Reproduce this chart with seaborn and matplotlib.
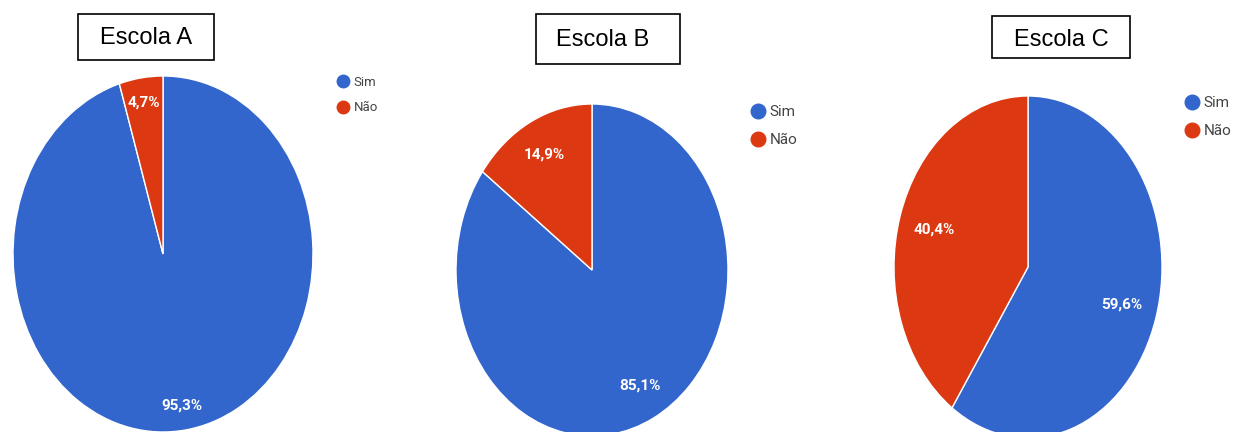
import matplotlib
matplotlib.use("Agg")
import matplotlib.pyplot as plt
from matplotlib.lines import Line2D
from matplotlib.patches import Rectangle
import seaborn as sns

# Survey answers per school (percent)
schools = ["Escola A", "Escola B", "Escola C"]
answers = ["Sim", "Não"]
sim_pct = [95.3, 85.1, 59.6]
nao_pct = [4.7, 14.9, 40.4]

sns.set_theme(style="white")
plt.rcParams["font.family"] = ["Liberation Sans", "DejaVu Sans"]
colors = sns.color_palette(["#3366CC", "#DC3912"])

W, H = 1233, 432
fig = plt.figure(figsize=(W / 100, H / 100), dpi=100)
fig.patch.set_facecolor("white")


def fx(x):
    return x / W


def fy(y):
    return 1 - y / H


# layout per panel: pie centre/radii, title box, legend anchor, label distance, font sizes
panels = [
    dict(cx=163, cy=254, rx=150, ry=178, box=(78, 14, 214, 60), tx=146, ty=38,
         leg=(336, 95), pct=0.86, leg_fs=9.5, leg_gap=0.95, ms=9, pad=0.35),
    dict(cx=592, cy=270, rx=136, ry=166, box=(536, 14, 680, 64), tx=603, ty=40,
         leg=(750, 126), pct=0.78, leg_fs=11, leg_gap=0.9, ms=10.5, pad=0.3),
    dict(cx=1028, cy=267, rx=134, ry=171, box=(992, 16, 1130, 58), tx=1061, ty=40,
         leg=(1184, 117), pct=0.73, leg_fs=11, leg_gap=0.9, ms=10.5, pad=0.3),
]

pct_font = dict(family=["Liberation Sans Narrow", "Roboto", "DejaVu Sans"],
                weight="bold", size=11, color="white")

for name, s, n, p in zip(schools, sim_pct, nao_pct, panels):
    ax = fig.add_axes([fx(p["cx"] - p["rx"]), fy(p["cy"] + p["ry"]),
                       2 * p["rx"] / W, 2 * p["ry"] / H])
    ax.pie([s, n], colors=colors, startangle=90, counterclock=False,
           autopct=lambda v: f"{v:.1f}".replace(".", ",") + "%",
           pctdistance=p["pct"], textprops=pct_font,
           wedgeprops=dict(edgecolor="white", linewidth=1.0))
    ax.set_aspect("auto")
    ax.set_xlim(-1, 1)
    ax.set_ylim(-1, 1)
    ax.axis("off")

    # boxed title
    x0, y0, x1, y1 = p["box"]
    fig.patches.append(Rectangle((fx(x0), fy(y1)), fx(x1 - x0), (y1 - y0) / H,
                                 transform=fig.transFigure, fill=False,
                                 edgecolor="black", linewidth=1.2))
    fig.text(fx(p["tx"]), fy(p["ty"]), name, ha="center", va="center",
             fontsize=17, color="black", family=["Liberation Sans", "DejaVu Sans"])

    # legend with round markers
    handles = [Line2D([], [], marker="o", linestyle="", markersize=p["ms"],
                      markerfacecolor=c, markeredgecolor=c) for c in colors]
    lx, ly = p["leg"]
    leg = fig.legend(handles, answers, loc="center left",
                     bbox_to_anchor=(fx(lx), fy(ly)), frameon=False,
                     handletextpad=p["pad"], handlelength=1.0, borderpad=0,
                     borderaxespad=0, labelspacing=p["leg_gap"],
                     prop=dict(family=["Liberation Sans Narrow", "Roboto", "DejaVu Sans"],
                               size=p["leg_fs"]))
    for t in leg.get_texts():
        t.set_color("#444444")

fig.savefig("out.png", dpi=100, facecolor="white")
